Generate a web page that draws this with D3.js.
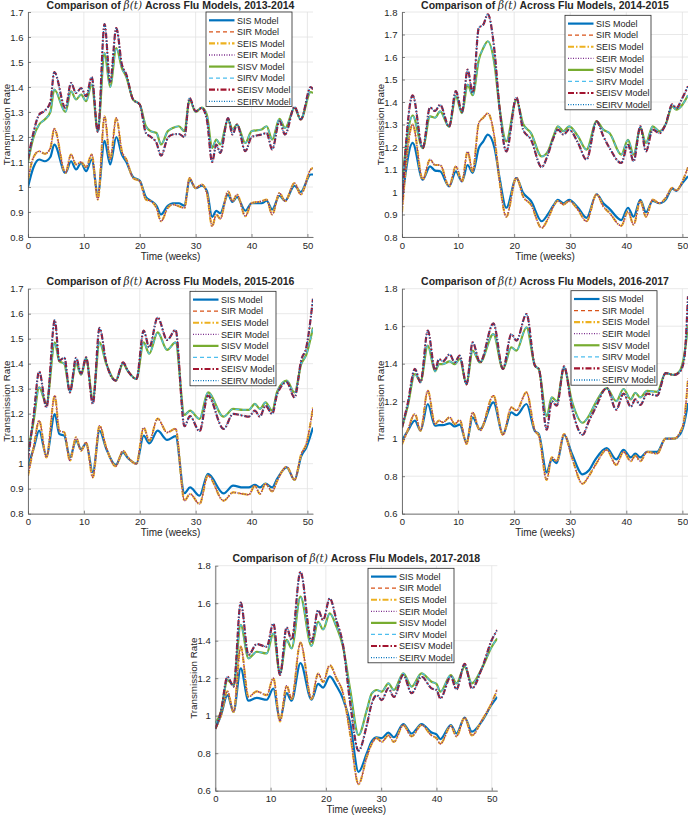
<!DOCTYPE html>
<html>
<head>
<meta charset="utf-8">
<script src="https://cdn.jsdelivr.net/npm/d3@7"></script>
<style>
  body { margin: 0; background: #fff; }
  svg text { font-family: "Liberation Sans", Arial, Helvetica, sans-serif; fill: #262626; }
</style>
</head>
<body>
<div id="chart"></div>
<script>
// Legend names, in plotting order
var modelNames = ["SIS Model", "SIR Model", "SEIS Model", "SEIR Model",
                  "SISV Model", "SIRV Model", "SEISV Model", "SEIRV Model"];

// Axis ticks
var weekTicks = [0, 10, 20, 30, 40, 50];
var rateTicksA = [0.8, 0.9, 1.0, 1.1, 1.2, 1.3, 1.4, 1.5, 1.6, 1.7];
var rateTicksB = [0.8, 0.9, 1.0, 1.1, 1.2, 1.3, 1.4, 1.5, 1.6, 1.7, 1.8];
var rateTicksC = [0.6, 0.8, 1.0, 1.2, 1.4, 1.6, 1.8];

// ---- 2013-2014 : time knots (weeks) and beta(t) values
var t2013 = [0, 1, 2, 3, 4, 4.7, 6.7, 7.7, 8.6, 9.5, 10.4, 11.4, 12.5, 13.7, 14.7, 15.8, 16.8, 17.6, 18.8, 20,
  21.1, 22, 23, 23.8, 25, 25.9, 27, 28, 28.9, 30, 31.1, 32, 32.95, 33.7, 34.4, 35.8, 36.6, 37.4, 38.9, 40,
  41.8, 42.7, 43.7, 45, 46, 47.7, 48.8, 50.6, 51];
var sis2013 = [1.0, 1.08, 1.11, 1.103, 1.12, 1.17, 1.056, 1.103, 1.07, 1.096, 1.063, 1.11, 0.97, 1.185, 1.09, 1.2, 1.13, 1.10, 1.04, 1.025,
  0.96, 0.945, 0.925, 0.89, 0.925, 0.935, 0.935, 0.925, 1.03, 0.995, 1.005, 0.985, 0.88, 0.905, 0.895, 0.97, 0.94, 0.96, 0.905, 0.935,
  0.935, 0.945, 0.91, 0.965, 0.945, 1.005, 0.98, 1.05, 1.05];
var seir2013 = [1.03, 1.12, 1.143, 1.133, 1.155, 1.233, 1.056, 1.13, 1.09, 1.10, 1.079, 1.13, 0.95, 1.283, 1.11, 1.276, 1.143, 1.11, 1.036, 1.023,
  0.95, 0.943, 0.916, 0.863, 0.916, 0.93, 0.923, 0.916, 1.036, 0.996, 1.01, 0.976, 0.843, 0.89, 0.873, 0.983, 0.943, 0.97, 0.883, 0.936,
  0.943, 0.95, 0.89, 0.976, 0.943, 1.016, 0.97, 1.07, 1.076];
var sisv2013 = [1.10, 1.20, 1.25, 1.27, 1.30, 1.39, 1.30, 1.383, 1.35, 1.37, 1.343, 1.41, 1.225, 1.536, 1.40, 1.556, 1.476, 1.44, 1.35, 1.33,
  1.243, 1.223, 1.216, 1.17, 1.223, 1.236, 1.243, 1.223, 1.35, 1.30, 1.318, 1.29, 1.156, 1.19, 1.17, 1.27, 1.23, 1.25, 1.176, 1.223,
  1.23, 1.243, 1.19, 1.273, 1.236, 1.316, 1.27, 1.38, 1.376];
var seisv2013 = [1.11, 1.22, 1.29, 1.305, 1.34, 1.46, 1.316, 1.416, 1.376, 1.396, 1.363, 1.44, 1.22, 1.652, 1.42, 1.636, 1.49, 1.45, 1.35, 1.33,
  1.216, 1.2, 1.176, 1.125, 1.196, 1.21, 1.212, 1.2, 1.356, 1.303, 1.316, 1.27, 1.10, 1.17, 1.136, 1.276, 1.21, 1.25, 1.143, 1.2,
  1.21, 1.216, 1.15, 1.263, 1.21, 1.32, 1.27, 1.40, 1.39];

// ---- 2014-2015
var t2014 = [0, 1.9, 3.7, 5, 5.9, 6.8, 8.4, 9.6, 10.7, 11.7, 12.6, 13.7, 14.5, 15.3, 16.5, 17.4, 18.6, 20.4, 21.6, 23,
  24.9, 26, 27, 27.8, 28.8, 29.8, 31.4, 32.9, 34.7, 35.9, 37, 39.1, 40.3, 41.3, 42.5, 43.5, 44.7, 45.9, 47, 48.2,
  48.9, 50, 51];
var sis2014 = [0.96, 1.218, 1.055, 1.114, 1.095, 1.092, 1.025, 1.092, 1.047, 1.12, 1.085, 1.196, 1.225, 1.255, 1.196, 1.062, 0.93, 1.062, 0.996, 0.96,
  0.87, 0.9, 0.94, 0.965, 0.95, 0.965, 0.93, 0.885, 0.99, 0.95, 0.925, 0.875, 0.93, 0.89, 0.965, 0.91, 0.96, 0.95, 0.965, 1.015,
  1.005, 1.04, 1.07];
var seir2014 = [0.91, 1.30, 1.055, 1.144, 1.12, 1.12, 1.025, 1.114, 1.047, 1.18, 1.092, 1.307, 1.33, 1.35, 1.24, 1.047, 0.89, 1.065, 0.98, 0.944,
  0.84, 0.88, 0.936, 0.96, 0.944, 0.96, 0.92, 0.87, 0.99, 0.936, 0.907, 0.85, 0.914, 0.855, 0.96, 0.89, 0.966, 0.95, 0.973, 1.018,
  1.006, 1.047, 1.11];
var sisv2014 = [1.04, 1.34, 1.195, 1.336, 1.33, 1.358, 1.29, 1.425, 1.35, 1.477, 1.43, 1.588, 1.64, 1.67, 1.566, 1.373, 1.225, 1.41, 1.302, 1.262,
  1.158, 1.18, 1.247, 1.292, 1.27, 1.292, 1.247, 1.188, 1.314, 1.277, 1.262, 1.166, 1.232, 1.166, 1.284, 1.218, 1.292, 1.27, 1.3, 1.38,
  1.366, 1.388, 1.43];
var seisv2014 = [0.96, 1.43, 1.195, 1.376, 1.36, 1.388, 1.29, 1.448, 1.356, 1.544, 1.44, 1.73, 1.744, 1.79, 1.625, 1.373, 1.18, 1.42, 1.277, 1.233,
  1.11, 1.165, 1.24, 1.277, 1.255, 1.277, 1.218, 1.144, 1.314, 1.248, 1.196, 1.129, 1.21, 1.136, 1.292, 1.18, 1.277, 1.262, 1.3, 1.39,
  1.373, 1.418, 1.47];

// ---- 2015-2016
var t2015 = [0, 1, 2, 3.3, 4.8, 5.6, 6.5, 7.5, 8.6, 9.5, 10.4, 11.6, 12.8, 14, 15.7, 17, 17.9, 19.4, 20.7, 21.7,
  23.2, 24.9, 26.4, 28, 29, 30.7, 32.2, 35, 36.7, 38.5, 39.5, 40.6, 41.5, 42.5, 43.7, 44.6, 46.3, 47.7, 48.9, 49.8, 51];
var sis2015 = [0.99, 1.06, 1.132, 1.032, 1.198, 1.119, 1.112, 1.025, 1.092, 1.058, 1.081, 0.965, 1.132, 1.06, 0.995, 1.045, 1.022, 1.0, 1.112, 1.081,
  1.132, 1.095, 1.11, 0.882, 0.905, 0.872, 0.959, 0.881, 0.912, 0.905, 0.905, 0.915, 0.905, 0.92, 0.905, 0.94, 0.985, 0.935, 1.03, 1.065, 1.145];
var seir2015 = [0.952, 1.065, 1.172, 1.025, 1.272, 1.132, 1.125, 1.012, 1.105, 1.052, 1.085, 0.945, 1.152, 1.065, 0.99, 1.052, 1.025, 0.999, 1.145, 1.092,
  1.18, 1.125, 1.14, 0.852, 0.879, 0.839, 0.952, 0.852, 0.885, 0.879, 0.876, 0.912, 0.879, 0.919, 0.889, 0.932, 0.988, 0.935, 1.039, 1.079, 1.225];
var sisv2015 = [1.05, 1.17, 1.305, 1.24, 1.485, 1.41, 1.40, 1.29, 1.40, 1.356, 1.42, 1.26, 1.485, 1.40, 1.332, 1.40, 1.37, 1.339, 1.485, 1.44,
  1.525, 1.455, 1.485, 1.195, 1.212, 1.179, 1.285, 1.188, 1.219, 1.215, 1.215, 1.239, 1.219, 1.245, 1.212, 1.289, 1.332, 1.285, 1.399, 1.436, 1.545];
var seisv2015 = [1.02, 1.19, 1.369, 1.225, 1.575, 1.412, 1.425, 1.285, 1.423, 1.36, 1.425, 1.24, 1.543, 1.405, 1.332, 1.405, 1.37, 1.339, 1.532, 1.465,
  1.585, 1.495, 1.535, 1.15, 1.19, 1.13, 1.272, 1.139, 1.199, 1.192, 1.188, 1.212, 1.188, 1.232, 1.199, 1.279, 1.325, 1.265, 1.415, 1.465, 1.66];

// ---- 2016-2017
var t2016 = [0, 1, 2.3, 3.3, 4.6, 5.9, 6.6, 7.3, 8.5, 9.4, 10.3, 11.5, 12.6, 13.9, 16.3, 18, 19.5, 20.4, 22.2, 23.7,
  24.4, 25.8, 26.7, 27.6, 28.9, 30.3, 32.2, 33.3, 34.5, 36.5, 38.2, 39.5, 40.8, 41.6, 42.5, 43.7, 45.5, 47, 48.5, 49.5,
  50.3, 51];
var sis2016 = [0.99, 1.04, 1.096, 1.043, 1.185, 1.069, 1.072, 1.072, 1.082, 1.065, 1.075, 0.98, 1.114, 1.05, 1.194, 1.025, 1.14, 1.125, 1.185, 1.04,
  1.025, 0.82, 0.89, 0.87, 1.02, 0.92, 0.81, 0.83, 0.89, 0.95, 0.89, 0.94, 0.9, 0.92, 0.9, 0.93, 0.93, 1.0, 1.0, 1.02,
  1.08, 1.19];
var seir2016 = [0.97, 1.043, 1.132, 1.043, 1.256, 1.078, 1.096, 1.087, 1.114, 1.078, 1.1, 0.972, 1.14, 1.043, 1.23, 1.02, 1.167, 1.15, 1.247, 1.043,
  1.016, 0.78, 0.9, 0.88, 1.025, 0.9, 0.76, 0.8, 0.86, 0.94, 0.86, 0.93, 0.88, 0.91, 0.88, 0.93, 0.92, 1.0, 1.0, 1.03,
  1.1, 1.32];
var sisv2016 = [1.06, 1.17, 1.345, 1.306, 1.496, 1.359, 1.398, 1.398, 1.412, 1.398, 1.425, 1.29, 1.47, 1.407, 1.558, 1.372, 1.487, 1.47, 1.594, 1.39,
  1.37, 1.12, 1.22, 1.2, 1.375, 1.2, 1.085, 1.12, 1.19, 1.27, 1.2, 1.265, 1.21, 1.245, 1.22, 1.255, 1.25, 1.35, 1.34, 1.36,
  1.44, 1.60];
var seisv2016 = [1.06, 1.185, 1.372, 1.30, 1.576, 1.366, 1.425, 1.413, 1.45, 1.407, 1.443, 1.29, 1.514, 1.407, 1.615, 1.372, 1.558, 1.523, 1.665, 1.39,
  1.372, 1.048, 1.2, 1.176, 1.386, 1.164, 1.021, 1.092, 1.164, 1.27, 1.155, 1.24, 1.17, 1.21, 1.18, 1.24, 1.23, 1.35, 1.34, 1.355,
  1.42, 1.76];

// ---- 2017-2018
var t2017 = [0, 1, 2.2, 3.3, 4.6, 6, 7.5, 9.3, 10.5, 11.7, 12.9, 13.8, 15.4, 17.4, 18.6, 19.5, 20.7, 21.9, 23.1, 24.4,
  25.9, 27.4, 28.3, 29.2, 30.1, 31.3, 32.3, 34, 35.5, 37.3, 39.1, 40, 40.7, 42.6, 43.6, 45.1, 46.4, 48.2, 50, 51];
var sis2017 = [0.93, 1.0, 1.11, 1.02, 1.252, 1.08, 1.095, 1.085, 1.145, 0.98, 1.12, 1.08, 1.28, 1.085, 1.17, 1.15, 1.21, 1.16, 1.09, 0.96,
  0.70, 0.8, 0.865, 0.885, 0.88, 0.91, 0.885, 0.955, 0.905, 0.955, 0.91, 0.9, 0.875, 0.95, 0.905, 0.99, 0.915, 0.97, 1.06, 1.10];
var seir2017 = [0.93, 1.0, 1.13, 1.02, 1.368, 1.10, 1.13, 1.11, 1.20, 0.97, 1.16, 1.09, 1.39, 1.09, 1.225, 1.18, 1.27, 1.2, 1.12, 0.9,
  0.635, 0.78, 0.85, 0.88, 0.86, 0.895, 0.86, 0.95, 0.89, 0.95, 0.895, 0.88, 0.85, 0.945, 0.89, 0.99, 0.895, 0.975, 1.07, 1.14];
var sisv2017 = [0.96, 1.02, 1.19, 1.164, 1.484, 1.306, 1.341, 1.332, 1.439, 1.226, 1.404, 1.359, 1.635, 1.372, 1.501, 1.46, 1.546, 1.475, 1.368, 1.137,
  0.897, 1.03, 1.119, 1.137, 1.128, 1.172, 1.137, 1.226, 1.155, 1.226, 1.181, 1.17, 1.128, 1.217, 1.172, 1.261, 1.172, 1.252, 1.368, 1.412];
var seisv2017 = [0.93, 1.02, 1.208, 1.155, 1.603, 1.324, 1.382, 1.368, 1.492, 1.217, 1.471, 1.404, 1.768, 1.395, 1.563, 1.51, 1.626, 1.51, 1.377, 1.066,
  0.813, 0.95, 1.066, 1.11, 1.083, 1.146, 1.10, 1.217, 1.12, 1.208, 1.146, 1.137, 1.092, 1.208, 1.14, 1.276, 1.146, 1.252, 1.404, 1.457];

// line style for each model (MATLAB default colour order)
var modelStyles = [
  { color: "#0072BD", width: 2.2, dash: null },
  { color: "#D95319", width: 1.2, dash: "4,3" },
  { color: "#EDB120", width: 2.2, dash: "6,2,1.5,2" },
  { color: "#7E2F8E", width: 1.3, dash: "1,1.5" },
  { color: "#77AC30", width: 2.2, dash: null },
  { color: "#4DBEEE", width: 1.2, dash: "4,3" },
  { color: "#A2142F", width: 2.2, dash: "6,2,1.5,2" },
  { color: "#0072BD", width: 1.3, dash: "1,1.5" }
];

// panels: position, axis range and legend box
var panels = [
  { season: "2013-2014", left: 28, top: 12, width: 285, yDomain: [0.8, 1.7], yTicks: rateTicksA,
    t: t2013, series: [sis2013, seir2013, seir2013, seir2013, sisv2013, sisv2013, seisv2013, seisv2013], legend: [206, 12] },
  { season: "2014-2015", left: 402, top: 12, width: 286, yDomain: [0.8, 1.8], yTicks: rateTicksB,
    t: t2014, series: [sis2014, seir2014, seir2014, seir2014, sisv2014, sisv2014, seisv2014, seisv2014], legend: [565, 15.3] },
  { season: "2015-2016", left: 28, top: 288.7, width: 285, yDomain: [0.8, 1.7], yTicks: rateTicksA,
    t: t2015, series: [sis2015, seir2015, seir2015, seir2015, sisv2015, sisv2015, seisv2015, seisv2015], legend: [190, 291.3] },
  { season: "2016-2017", left: 402, top: 288.7, width: 286, yDomain: [0.6, 1.8], yTicks: rateTicksC,
    t: t2016, series: [sis2016, seir2016, seir2016, seir2016, sisv2016, sisv2016, seisv2016, seisv2016], legend: [571, 290.7] },
  { season: "2017-2018", left: 215.3, top: 565.7, width: 282, yDomain: [0.6, 1.8], yTicks: rateTicksC,
    t: t2017, series: [sis2017, seir2017, seir2017, seir2017, sisv2017, sisv2017, seisv2017, seisv2017], legend: [368, 568.3] }
];

var plotHeight = 225;

var svg = d3.select("#chart")
  .append("svg")
  .attr("width", 688)
  .attr("height", 818);

var fmt = function(d) { return String(+d.toFixed(1)); };

panels.forEach(function(p, pi) {
  var g = svg.append("g")
    .attr("transform", `translate(${p.left}, ${p.top})`);

  var x = d3.scaleLinear().domain([0, 51]).range([0, p.width]);
  var y = d3.scaleLinear().domain(p.yDomain).range([plotHeight, 0]);

  // grid
  g.append("g").selectAll("line")
    .data(weekTicks)
    .enter().append("line")
    .attr("x1", d => x(d)).attr("x2", d => x(d))
    .attr("y1", 0).attr("y2", plotHeight)
    .attr("stroke", "#e2e2e2").attr("stroke-width", 0.8);
  g.append("g").selectAll("line")
    .data(p.yTicks)
    .enter().append("line")
    .attr("x1", 0).attr("x2", p.width)
    .attr("y1", d => y(d)).attr("y2", d => y(d))
    .attr("stroke", "#e2e2e2").attr("stroke-width", 0.8);

  // lines
  g.append("clipPath").attr("id", "clip" + pi)
    .append("rect").attr("width", p.width).attr("height", plotHeight);

  var lineGroup = g.append("g").attr("clip-path", `url(#clip${pi})`);
  p.series.forEach(function(vals, si) {
    var pts = p.t.map((w, i) => [w, vals[i]]);
    var line = d3.line()
      .x(d => x(d[0]))
      .y(d => y(d[1]))
      .curve(d3.curveMonotoneX);
    var st = modelStyles[si];
    lineGroup.append("path")
      .attr("d", line(pts))
      .attr("fill", "none")
      .attr("stroke", st.color)
      .attr("stroke-width", st.width)
      .attr("stroke-dasharray", st.dash)
      .attr("stroke-linejoin", "round");
  });

  // axes (inward ticks, MATLAB style)
  var bottomAxis = d3.axisBottom(x).tickValues(weekTicks).tickSizeInner(-3).tickSizeOuter(0).tickPadding(5);
  var leftAxis = d3.axisLeft(y).tickValues(p.yTicks).tickSizeInner(-3).tickSizeOuter(0).tickPadding(4.5).tickFormat(fmt);

  var xg = g.append("g")
    .attr("transform", `translate(0, ${plotHeight})`)
    .call(bottomAxis);
  var yg = g.append("g").call(leftAxis);
  [xg, yg].forEach(function(a) {
    a.select(".domain").attr("stroke", "#555").attr("stroke-width", 0.8);
    a.selectAll(".tick line").attr("stroke", "#555").attr("stroke-width", 0.7);
    a.selectAll("text").attr("font-size", 9.5).attr("fill", "#262626")
      .style("font-family", "'Liberation Sans', Arial, sans-serif");
  });

  // title
  var title = g.append("text")
    .attr("x", p.width / 2)
    .attr("y", -3.5)
    .attr("text-anchor", "middle")
    .attr("font-size", 10.5)
    .attr("font-weight", "bold");
  title.append("tspan").text("Comparison of ");
  title.append("tspan")
    .attr("font-family", "'DejaVu Serif', 'Liberation Serif', serif")
    .attr("font-style", "italic")
    .attr("font-weight", "normal")
    .text("β(t)");
  title.append("tspan").text(" Across Flu Models, " + p.season);

  // axis labels
  g.append("text")
    .attr("x", p.width / 2)
    .attr("y", plotHeight + 22.5)
    .attr("text-anchor", "middle")
    .attr("font-size", 10)
    .text("Time (weeks)");

  g.append("text")
    .attr("transform", "rotate(-90)")
    .attr("x", -plotHeight / 2)
    .attr("y", -18.5)
    .attr("text-anchor", "middle")
    .attr("font-size", 9.8)
    .text("Transmission Rate");

  // legend
  var lg = svg.append("g")
    .attr("transform", `translate(${p.legend[0]}, ${p.legend[1]})`);
  lg.append("rect")
    .attr("width", 86).attr("height", 94.5)
    .attr("fill", "#fff")
    .attr("stroke", "#262626").attr("stroke-width", 0.8);
  modelNames.forEach(function(name, i) {
    var cy = 8.3 + i * 11.57;
    var st = modelStyles[i];
    lg.append("line")
      .attr("x1", 3).attr("x2", 28.5)
      .attr("y1", cy).attr("y2", cy)
      .attr("stroke", st.color)
      .attr("stroke-width", st.width)
      .attr("stroke-dasharray", st.dash);
    lg.append("text")
      .attr("x", 31)
      .attr("y", cy + 3.3)
      .attr("text-anchor", "start")
      .attr("font-size", 9)
      .text(name);
  });
});
</script>
</body>
</html>
